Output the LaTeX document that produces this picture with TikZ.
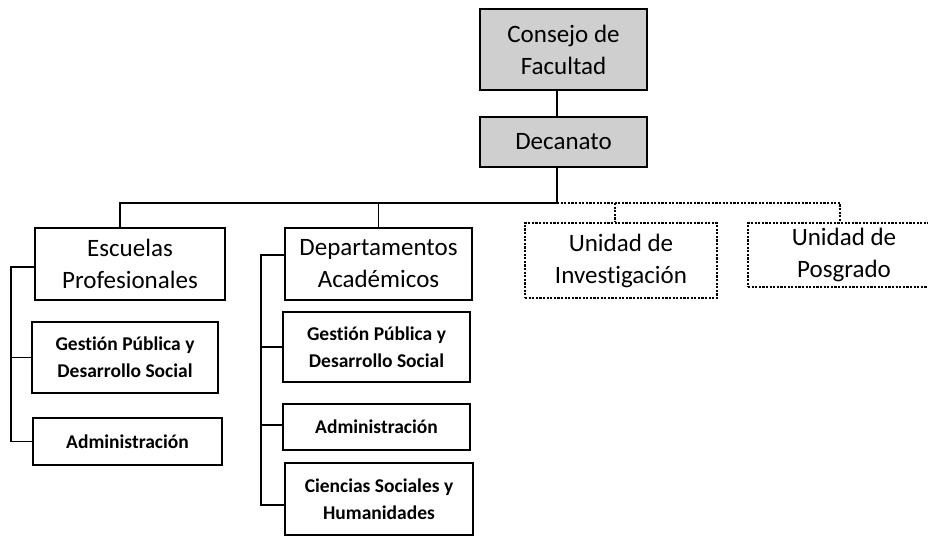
\documentclass[tikz,border=0pt]{standalone}
\usepackage{fontspec}
\setmainfont{Carlito}[Ligatures=NoCommon]
\begin{document}
\begin{tikzpicture}[x=1pt,y=-1pt,
  box/.style={draw, line width=1.8pt, align=center, inner sep=0pt, font=\fontsize{25}{32}\selectfont},
  topbox/.style={box, fill=gray!38},
  dotbox/.style={box, dash pattern=on 2.2pt off 1.4pt, line width=1.8pt},
  smallbox/.style={box, font=\fontsize{19.5}{27}\selectfont\bfseries},
  conn/.style={line width=1.8pt},
  dotconn/.style={line width=1.8pt, dash pattern=on 2.2pt off 1.4pt}]
\useasboundingbox (0,0) rectangle (928,545);
\fill[white] (0,0) rectangle (928,545);

\node[topbox, minimum width=167pt, minimum height=81pt] (consejo) at (563.5,49.5) {Consejo de\\Facultad};
\node[topbox, minimum width=167pt, minimum height=50pt] (decanato) at (563.5,142) {Decanato};

\node[box, minimum width=190pt, minimum height=72pt] (escuelas) at (130,264) {Escuelas\\Profesionales};
\node[box, minimum width=187pt, minimum height=72pt] (deptos) at (378.5,264) {Departamentos\\Académicos};
\node[dotbox, minimum width=192pt, minimum height=75pt] (invest) at (621,260.5) {Unidad de\\Investigación};
\node[dotbox, minimum width=192pt, minimum height=64pt] (posg) at (844,255) {Unidad de\\Posgrado};

\node[smallbox, minimum width=186pt, minimum height=71pt] (e1) at (125,357.5) {Gestión Pública y\\Desarrollo Social};
\node[smallbox, minimum width=189pt, minimum height=47pt] (e2) at (127.5,441.5) {Administración};

\node[smallbox, minimum width=187pt, minimum height=70pt] (d1) at (376.5,347) {Gestión Pública y\\Desarrollo Social};
\node[smallbox, minimum width=187pt, minimum height=46pt] (d2) at (376.5,427) {Administración};
\node[smallbox, minimum width=188pt, minimum height=72pt] (d3) at (379,499) {Ciencias Sociales y\\Humanidades};

% top connectors
\coordinate (hub) at (557,203);
\draw[conn] ([xshift=-6.5pt]consejo.south) -- ([xshift=-6.5pt]decanato.north);
\draw[conn] ([xshift=-6.5pt]decanato.south) -- (hub);
\draw[conn] (hub) -- (hub -| 120,0) -- ([xshift=-10pt]escuelas.north);
\draw[conn] (hub -| deptos.north) -- (deptos.north);
\draw[dotconn] (hub) -- (hub -| 840,0) -- ([xshift=-4pt]posg.north);
\draw[dotconn] (hub -| 615,0) -- ([xshift=-6pt]invest.north);

% left brackets
\draw[conn] ([yshift=-3pt]escuelas.west) -- ++(-23,0) |- (e2.west);
\draw[conn] (e1.west) -- ++(-20,0);
\draw[conn] ([yshift=9pt]deptos.west) -- ++(-23,0) |- ([yshift=-6pt]d3.west);
\draw[conn] (d1.west) -- ++(-21,0);
\draw[conn] ([yshift=2pt]d2.west) -- ++(-21,0);
\end{tikzpicture}
\end{document}
